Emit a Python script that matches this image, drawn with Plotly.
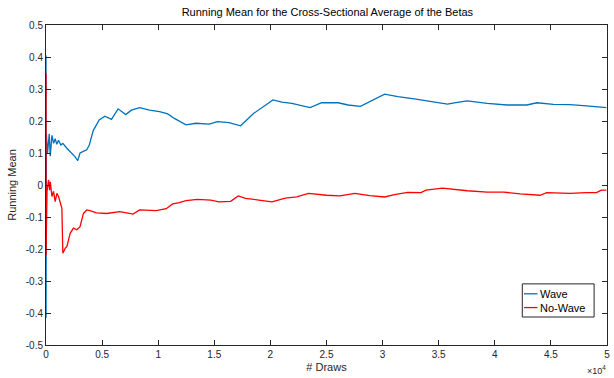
import plotly.graph_objects as go

# Running mean of the cross-sectional average beta, by number of draws
wave_draws = [1, 4, 30, 140, 290, 380, 530, 680, 820, 960, 1115, 1320, 1500,
              1860, 2300, 2600, 2830, 3035, 3330, 3630, 3860, 4210, 4740,
              5250, 5840, 6425, 7110, 7610, 8345, 9230, 10115, 10850, 11440,
              12480, 13360, 14540, 15275, 16310, 17345, 18520, 20230, 21030,
              21910, 23540, 24570, 26040, 26930, 28020, 30180, 31360, 32830,
              34300, 35780, 36660, 37550, 39320, 41090, 42860, 43750, 45220,
              46700, 48170, 49940]
wave_mean = [0.405, -0.415, 0.16, 0.10, 0.16, 0.09, 0.155, 0.13, 0.145, 0.127,
             0.14, 0.125, 0.13, 0.115, 0.10, 0.088, 0.076, 0.10, 0.105, 0.11,
             0.125, 0.17, 0.203, 0.215, 0.205, 0.238, 0.22, 0.234, 0.242,
             0.234, 0.229, 0.222, 0.208, 0.188, 0.193, 0.19, 0.198, 0.195,
             0.185, 0.224, 0.266, 0.259, 0.255, 0.242, 0.257, 0.257, 0.25,
             0.246, 0.284, 0.276, 0.269, 0.26, 0.253, 0.258, 0.263, 0.255,
             0.25, 0.25, 0.257, 0.252, 0.251, 0.247, 0.242]

nowave_draws = [1, 4, 90, 230, 320, 380, 530, 670, 820, 970, 1115, 1265, 1415,
                1500, 1710, 1860, 2155, 2440, 2740, 3035, 3330, 3630, 3920,
                4510, 5400, 6575, 7460, 7750, 8345, 9230, 9820, 10710, 11290,
                11880, 12480, 13500, 14690, 15420, 16460, 17130, 17790, 18960,
                20140, 21330, 22350, 23390, 25010, 26190, 27520, 28850, 30180,
                31060, 32240, 33420, 33860, 35340, 37550, 39320, 40800, 42270,
                44040, 44630, 46700, 48170, 49060, 49500, 49940]
nowave_mean = [0.35, -0.22, -0.02, 0.016, -0.016, 0.01, -0.036, -0.02, -0.052,
               -0.026, -0.036, -0.057, -0.073, -0.213, -0.198, -0.193, -0.151,
               -0.135, -0.14, -0.13, -0.089, -0.078, -0.08, -0.087, -0.089,
               -0.083, -0.089, -0.091, -0.078, -0.078, -0.08, -0.074, -0.059,
               -0.055, -0.049, -0.045, -0.047, -0.053, -0.051, -0.034, -0.042,
               -0.047, -0.053, -0.041, -0.037, -0.026, -0.032, -0.034, -0.026,
               -0.033, -0.0375, -0.03, -0.023, -0.024, -0.016, -0.01, -0.018,
               -0.022, -0.022, -0.028, -0.032, -0.024, -0.026, -0.024, -0.024,
               -0.016, -0.016]

x_tick_vals = [0, 5000, 10000, 15000, 20000, 25000, 30000, 35000, 40000, 45000, 50000]
x_tick_text = ["0", "0.5", "1", "1.5", "2", "2.5", "3", "3.5", "4", "4.5", "5"]
y_tick_vals = [-0.5, -0.4, -0.3, -0.2, -0.1, 0, 0.1, 0.2, 0.3, 0.4, 0.5]
y_tick_text = ["-0.5", "-0.4", "-0.3", "-0.2", "-0.1", "0", "0.1", "0.2", "0.3", "0.4", "0.5"]

series_names = ["Wave", "No-Wave"]
series_colors = ["#0072BD", "#FF0000"]

FONT = "Liberation Sans, Arial, Helvetica, sans-serif"
AXIS_GRAY = "#262626"

fig = go.Figure()
fig.add_trace(go.Scatter(x=wave_draws, y=wave_mean, mode="lines",
                         name=series_names[0],
                         line=dict(color=series_colors[0], width=1.3)))
fig.add_trace(go.Scatter(x=nowave_draws, y=nowave_mean, mode="lines",
                         name=series_names[1],
                         line=dict(color=series_colors[1], width=1.3)))

axis_common = dict(showgrid=False, zeroline=False, showline=True,
                   linecolor=AXIS_GRAY, linewidth=1, mirror="ticks",
                   ticks="inside", ticklen=5, tickcolor=AXIS_GRAY,
                   tickfont=dict(family=FONT, size=10, color=AXIS_GRAY))

fig.update_layout(
    width=614, height=378,
    margin=dict(l=46, r=4, t=25, b=33),
    paper_bgcolor="white", plot_bgcolor="white",
    showlegend=False,
    title=dict(text="Running Mean for the Cross-Sectional Average of the Betas",
               x=0.5332, xanchor="center", y=0.968, yanchor="middle",
               font=dict(family=FONT, size=11, color="black")),
    xaxis=dict(range=[0, 50000], tickvals=x_tick_vals, ticktext=x_tick_text,
               title=dict(text="# Draws", standoff=4,
                          font=dict(family=FONT, size=11, color=AXIS_GRAY)),
               **axis_common),
    yaxis=dict(range=[-0.5, 0.5], tickvals=y_tick_vals, ticktext=y_tick_text,
               title=dict(text="Running Mean", standoff=6,
                          font=dict(family=FONT, size=11, color=AXIS_GRAY)),
               **axis_common),
)

# Exponent label for the x axis
fig.add_annotation(text="\u00d710<sup>4</sup>", xref="paper", yref="paper",
                   x=1.0, y=-0.1, xanchor="right", yanchor="bottom",
                   showarrow=False, borderpad=0,
                   font=dict(family=FONT, size=9, color=AXIS_GRAY))

# Boxed legend in the lower-right corner
fig.add_shape(type="rect", xref="paper", yref="paper",
              x0=0.849, x1=0.977, y0=0.0875, y1=0.191,
              line=dict(color=AXIS_GRAY, width=1), fillcolor="white", layer="above")
legend_rows = [0.160, 0.117]
for name, color, yy in zip(series_names, series_colors, legend_rows):
    fig.add_shape(type="line", xref="paper", yref="paper",
                  x0=0.852, x1=0.876, y0=yy, y1=yy,
                  line=dict(color=color, width=1.3), layer="above")
    fig.add_annotation(text=name, xref="paper", yref="paper",
                       x=0.877, y=yy, xanchor="left", yanchor="middle",
                       showarrow=False,
                       font=dict(family=FONT, size=11, color="black"))

fig.write_html("out.html")
